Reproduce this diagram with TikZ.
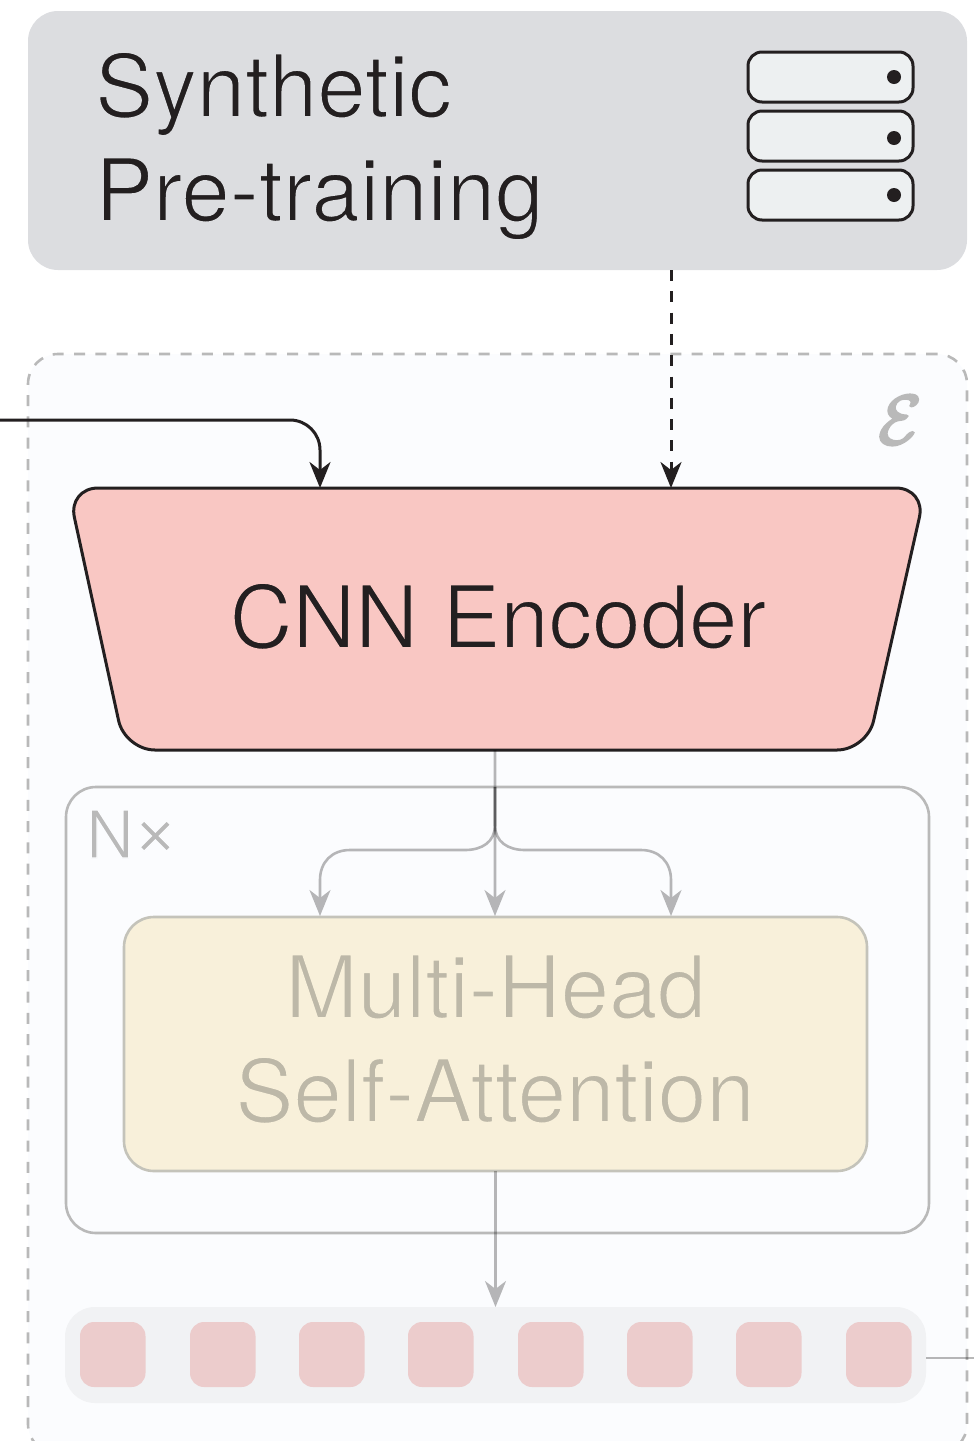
\documentclass[tikz,border=0pt]{standalone}
\usepackage{fontspec}
\setmainfont{TeX Gyre Heros}
\usetikzlibrary{arrows.meta}
\definecolor{ink}{HTML}{231F20}
\definecolor{headbg}{HTML}{DCDDE0}
\definecolor{outerbg}{HTML}{FBFCFE}
\definecolor{servbg}{HTML}{EDF0F1}
\definecolor{encbg}{HTML}{F9C7C3}
\definecolor{mhabg}{HTML}{F8F0DA}
\definecolor{mhaline}{HTML}{C4C3BA}
\definecolor{mhatext}{HTML}{BDB8A8}
\definecolor{stripbg}{HTML}{F1F2F4}
\definecolor{tokbg}{HTML}{ECCCCC}
\definecolor{greyline}{HTML}{B9B9B9}
% outline the glyphs in a given colour: the background colour thins them, the text colour thickens them
\newcommand\outlined[3]{\special{pdf:code 2 Tr #2 w #1 RG}#3\special{pdf:code 0 Tr 1 w 0 G}}
\tikzset{
  x=1pt,y=-1pt,
  box/.style={rectangle,inner sep=0pt,outer sep=0pt,anchor=north west},
  server/.style={box,draw=ink,line width=3pt,fill=servbg,rounded corners=14pt,minimum width=165pt,minimum height=50pt},
  led/.style={circle,fill=ink,inner sep=0pt,minimum size=14pt},
  token/.style={box,fill=tokbg,rounded corners=14pt,minimum width=65.5pt,minimum height=65pt},
  inkarrow/.style={draw=ink,line width=3pt,-{Stealth[length=26pt,width=21pt,inset=8pt]}},
  fadearrow/.style={draw=black,line width=2.6pt,-{Stealth[length=26pt,width=21pt,inset=8pt]}},
  bigtext/.style={inner sep=0pt,font=\fontsize{87}{87}\selectfont},
}
\begin{document}
\begin{tikzpicture}
\useasboundingbox (0,0) rectangle (974,1441);
\clip (0,0) rectangle (974,1441);
% outer dashed panel
\node[box,draw=greyline,fill=outerbg,line width=2.6pt,dash pattern=on 11pt off 10.3pt,rounded corners=30pt,minimum width=939pt,minimum height=1100pt] (outer) at (28,354) {};
\node[box,fill=headbg,rounded corners=30pt,minimum width=939pt,minimum height=259pt] (head) at (28,11) {};
\node[bigtext,anchor=base west,text=ink] (t1) at (95,117) {\outlined{.863 .867 .878}{1.6}{Synthetic}};
\node[bigtext,anchor=base west,text=ink] (t2) at (95,221) {\outlined{.863 .867 .878}{1.6}{Pre-training}};
\node[server] (s1) at (748,52) {};
\node[server] (s2) at (748,111) {};
\node[server] (s3) at (748,170) {};
\node[led] (l1) at (894,77) {};
\node[led] (l2) at (894,138) {};
\node[led] (l3) at (894,195) {};
\node[anchor=center,inner sep=0pt,text=greyline,font=\fontsize{24.88}{24.88}\selectfont] (eps) at (900,420) {\outlined{.725 .725 .725}{.9}{\scalebox{2.8}{$\mathcal{E}$}}};
% N box
\node[box,draw=greyline,line width=2.6pt,rounded corners=30pt,minimum width=863pt,minimum height=446pt] (nbox) at (66,787) {};
\node[anchor=base west,inner sep=0pt,text=greyline,font=\fontsize{66}{66}\selectfont] (nx) at (86,858) {\outlined{.984 .988 .996}{1.4}{N\kern-3pt\raisebox{1pt}{\fontsize{84}{84}\selectfont ×}}};
% encoder
\node[box,minimum width=848pt,minimum height=262pt] (enc) at (73,488) {};
\draw[draw=ink,fill=encbg,line width=3pt,rounded corners=30pt] (68,488) -- (926,488) -- (867,750) -- (125,750) -- cycle;
\node[bigtext,anchor=base,text=ink] (enct) at (498,648) {\outlined{.976 .78 .765}{1.6}{CNN Encoder}};
% attention
\node[box,draw=mhaline,fill=mhabg,line width=2.6pt,rounded corners=30pt,minimum width=743pt,minimum height=254pt] (mha) at (124,917) {};
\node[bigtext,anchor=base,text=mhatext] (m1) at (495.5,1018) {\outlined{.973 .941 .855}{1.6}{Multi-Head}};
\node[bigtext,anchor=base,text=mhatext] (m2) at (495,1122) {\outlined{.973 .941 .855}{1.6}{Self-Attention}};
% tokens
\node[box,fill=stripbg,rounded corners=30pt,minimum width=861pt,minimum height=96pt] (strip) at (65,1307) {};
\foreach \i/\x in {1/80,2/190,3/299,4/408,5/518,6/627,7/736,8/846}
  \node[token] (tok\i) at (\x,1322) {};
% connectors
\coordinate (inp) at (0,420);
\coordinate (bl) at (320,488);
\coordinate (bm) at (495,916);
\coordinate (bla) at (320,916);
\coordinate (bra) at (671,916);
\coordinate (sp) at (495,787);
\coordinate (dsh) at (671,488);
\coordinate (outp) at (974,1358);
\draw[inkarrow,rounded corners=30pt] (inp) -- (320,420) -- (bl);
\draw[inkarrow,dash pattern=on 11pt off 10.3pt] (head.south -| dsh) -- (dsh);
\begin{scope}[transparency group,opacity=.28]
\draw[fadearrow] (enc.south -| bm) -- (bm);
\end{scope}
\begin{scope}[transparency group,opacity=.28]
\draw[fadearrow] (sp) -- (495,825) .. controls (495,842) and (482,850) .. (465,850) -- (350,850) .. controls (332,850) and (320,862) .. (320,880) -- (bla);
\end{scope}
\begin{scope}[transparency group,opacity=.28]
\draw[fadearrow] (sp) -- (495,825) .. controls (495,842) and (508,850) .. (525,850) -- (641,850) .. controls (659,850) and (671,862) .. (671,880) -- (bra);
\end{scope}
\begin{scope}[transparency group,opacity=.28]
\draw[fadearrow] (mha.south) -- (strip.north -| mha.south);
\end{scope}
\draw[draw=black,opacity=.28,line width=2.6pt] (strip.east |- outp) -- (outp);
\end{tikzpicture}
\end{document}
